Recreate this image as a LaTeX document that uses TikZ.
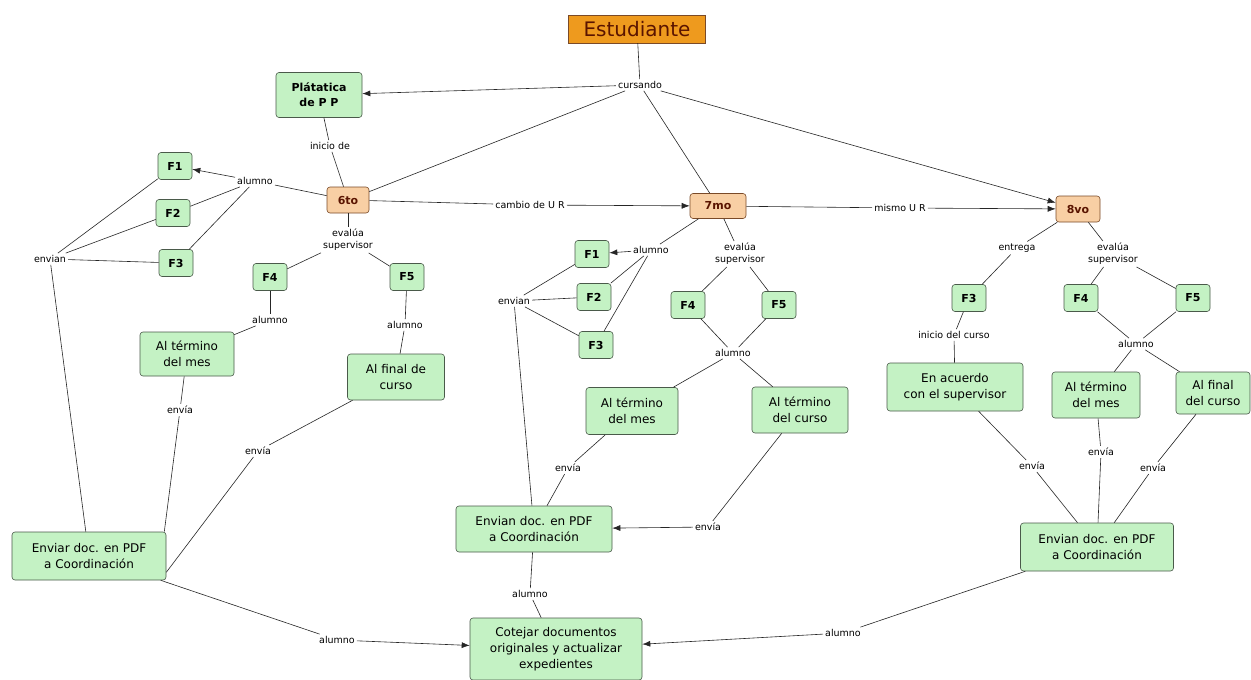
\documentclass[tikz,border=0pt]{standalone}
\usepackage{fontspec}
\setmainfont{DejaVu Sans}
\usetikzlibrary{arrows.meta}
\definecolor{gfill}{HTML}{C4F2C4}
\definecolor{gdraw}{HTML}{4A5A4A}
\definecolor{ofill}{HTML}{F8CFA4}
\definecolor{odraw}{HTML}{7A4A28}
\definecolor{efill}{HTML}{EE9A1E}
\definecolor{etext}{HTML}{5A1400}
\tikzset{
  box/.style={draw=gdraw, fill=gfill, rounded corners=3pt, line width=0.6pt, align=center,
    inner sep=2pt, font=\fontsize{12}{16}\selectfont},
  fbox/.style={box, minimum width=34pt, minimum height=27pt, font=\bfseries\fontsize{11}{13}\selectfont},
  sem/.style={draw=odraw, fill=ofill, rounded corners=3pt, line width=0.6pt, inner sep=2pt,
    minimum height=26pt, text=etext, font=\bfseries\fontsize{11}{13}\selectfont},
  lab/.style={inner sep=2pt, align=center, font=\fontsize{9.5}{12}\selectfont},
  con/.style={draw=black!85, line width=0.6pt},
  arr/.style={con, -{Latex[length=8pt,width=6pt]}},
}
\begin{document}
\begin{tikzpicture}[x=1pt,y=-1pt]
\useasboundingbox[fill=white] (0,0) rectangle (1251,680);
% concepts
\node[draw=odraw, fill=efill, text=etext, inner sep=2pt, minimum width=137pt, minimum height=28pt,
  font=\fontsize{20}{22}\selectfont] (E) at (637,29) {Estudiante};
\node[box, minimum width=86pt, minimum height=45pt, font=\bfseries\fontsize{11}{15}\selectfont] (plat) at (319,95) {Plátatica\\de P P};
\node[sem, minimum width=42pt] (s6) at (348,200) {6to};
\node[sem, minimum width=56pt, minimum height=25pt] (s7) at (718,206) {7mo};
\node[sem, minimum width=44pt] (s8) at (1078,209) {8vo};
% 6to branch
\node[fbox] (F1a) at (175,166) {F1};
\node[fbox] (F2a) at (173,213) {F2};
\node[fbox] (F3a) at (176,263) {F3};
\node[fbox] (F4a) at (270,277) {F4};
\node[fbox] (F5a) at (407,277) {F5};
\node[box, minimum width=94pt, minimum height=44pt] (ATa) at (187,354) {Al término\\del mes};
\node[box, minimum width=97pt, minimum height=46pt] (AFa) at (396,377) {Al final de\\curso};
\node[box, minimum width=154pt, minimum height=48pt] (EnvA) at (89,556) {Enviar doc. en PDF\\a Coordinación};
% 7mo branch
\node[fbox] (F1b) at (592,254) {F1};
\node[fbox] (F2b) at (594,297) {F2};
\node[fbox] (F3b) at (596,345) {F3};
\node[fbox] (F4b) at (688,305) {F4};
\node[fbox] (F5b) at (779,305) {F5};
\node[box, minimum width=92pt, minimum height=47pt] (ATb) at (632,411) {Al término\\del mes};
\node[box, minimum width=96pt, minimum height=46pt] (ACb) at (800,410) {Al término\\del curso};
\node[box, minimum width=156pt, minimum height=46pt] (EnvB) at (534,529) {Envian doc. en PDF\\a Coordinación};
% 8vo branch
\node[fbox] (F3c) at (969,298) {F3};
\node[fbox] (F4c) at (1081,298) {F4};
\node[fbox] (F5c) at (1193,298) {F5};
\node[box, minimum width=136pt, minimum height=48pt] (Acu) at (955,387) {En acuerdo\\con el supervisor};
\node[box, minimum width=88pt, minimum height=46pt] (ATc) at (1096,395) {Al término\\del mes};
\node[box, minimum width=74pt, minimum height=42pt, inner sep=1pt] (AFc) at (1213,393) {Al final\\del curso};
\node[box, minimum width=153pt, minimum height=48pt] (EnvC) at (1097,547) {Envian doc. en PDF\\a Coordinación};
% final
\node[box, minimum width=172pt, minimum height=62pt] (Cot) at (556,649) {Cotejar documentos\\originales y actualizar\\expedientes};
% link labels
\node[lab] (cur) at (640,85) {cursando};
\node[lab] (inA) at (330,146) {inicio de};
\node[lab] (alA) at (255,181) {alumno};
\node[lab] (envianA) at (50,259) {envian};
\node[lab] (evA) at (348,240) {evalúa\\supervisor};
\node[lab] (alB) at (270,320) {alumno};
\node[lab] (alC) at (405,325) {alumno};
\node[lab] (enA) at (180,410) {envía};
\node[lab] (enB) at (258,451) {envía};
\node[lab] (alL) at (337,640) {alumno};
\node[lab] (cam) at (530,205) {cambio de U R};
\node[lab] (alM) at (651,250) {alumno};
\node[lab] (envianB) at (514,301) {envian};
\node[lab] (evB) at (740,254) {evalúa\\supervisor};
\node[lab] (alN) at (733,353) {alumno};
\node[lab] (enC) at (568,468) {envía};
\node[lab] (enD) at (708,527) {envía};
\node[lab] (alO) at (530,594) {alumno};
\node[lab] (mis) at (900,208) {mismo U R};
\node[lab] (ent) at (1017,248) {entrega};
\node[lab] (evC) at (1113,254) {evalúa\\supervisor};
\node[lab] (inC) at (954,335) {inicio del curso};
\node[lab] (alP) at (1136,344) {alumno};
\node[lab] (enE) at (1032,466) {envía};
\node[lab] (enF) at (1101,452) {envía};
\node[lab] (enG) at (1153,468) {envía};
\node[lab] (alR) at (843,633) {alumno};
% connectors: top
\draw[con] (E) -- (cur);
\draw[arr] (cur) -- (plat);
\draw[con] (cur) -- (s6);
\draw[con] (cur) -- (s7);
\draw[arr] (cur) -- (s8);
\draw[con] (plat) -- (inA);
\draw[con] (inA) -- (s6);
\draw[con] (s6) -- (cam);
\draw[arr] (cam) -- (s7);
\draw[con] (s7) -- (mis);
\draw[arr] (mis) -- (s8);
% 6to
\draw[con] (s6) -- (alA);
\draw[arr] (alA) -- (F1a);
\draw[con] (alA) -- (F2a);
\draw[con] (alA) -- (F3a);
\draw[con] (envianA) -- (F1a);
\draw[con] (envianA) -- (F2a);
\draw[con] (envianA) -- (F3a);
\draw[con] (envianA) -- (EnvA);
\draw[con] (s6) -- (evA);
\draw[con] (evA) -- (F4a);
\draw[con] (evA) -- (F5a);
\draw[con] (F4a) -- (alB);
\draw[con] (alB) -- (ATa);
\draw[con] (F5a) -- (alC);
\draw[con] (alC) -- (AFa);
\draw[con] (ATa) -- (enA);
\draw[con] (enA) -- ([xshift=-2pt]EnvA.north east);
\draw[con] (AFa) -- (enB);
\draw[con] (enB) -- ([yshift=8pt]EnvA.south east);
\draw[con] (EnvA) -- (alL);
\draw[arr] (alL) -- (Cot);
% 7mo
\draw[con] (s7) -- (alM);
\draw[arr] (alM) -- (F1b);
\draw[con] (alM) -- (F2b);
\draw[con] (alM) -- (F3b);
\draw[con] (envianB) -- (F1b);
\draw[con] (envianB) -- (F2b);
\draw[con] (envianB) -- (F3b);
\draw[con] (envianB) -- (EnvB);
\draw[con] (s7) -- (evB);
\draw[con] (evB) -- (F4b);
\draw[con] (evB) -- (F5b);
\draw[con] (F4b) -- (alN);
\draw[con] (F5b) -- (alN);
\draw[con] (alN) -- (ATb);
\draw[con] (alN) -- (ACb);
\draw[con] (ATb) -- (enC);
\draw[con] (enC) -- (EnvB);
\draw[con] (ACb) -- (enD);
\draw[arr] (enD) -- (EnvB);
\draw[con] (EnvB) -- (alO);
\draw[con] (alO) -- (Cot);
% 8vo
\draw[con] (s8) -- (ent);
\draw[con] (ent) -- (F3c);
\draw[con] (s8) -- (evC);
\draw[con] (evC) -- (F4c);
\draw[con] (evC) -- (F5c);
\draw[con] (F3c) -- (inC);
\draw[con] (inC) -- (Acu);
\draw[con] (F4c) -- (alP);
\draw[con] (F5c) -- (alP);
\draw[con] (alP) -- (ATc);
\draw[con] (alP) -- (AFc);
\draw[con] (Acu) -- (enE);
\draw[con] (enE) -- (EnvC);
\draw[con] (ATc) -- (enF);
\draw[con] (enF) -- (EnvC);
\draw[con] (AFc) -- (enG);
\draw[con] (enG) -- (EnvC);
\draw[con] (EnvC) -- (alR);
\draw[arr] (alR) -- (Cot);
\end{tikzpicture}
\end{document}
